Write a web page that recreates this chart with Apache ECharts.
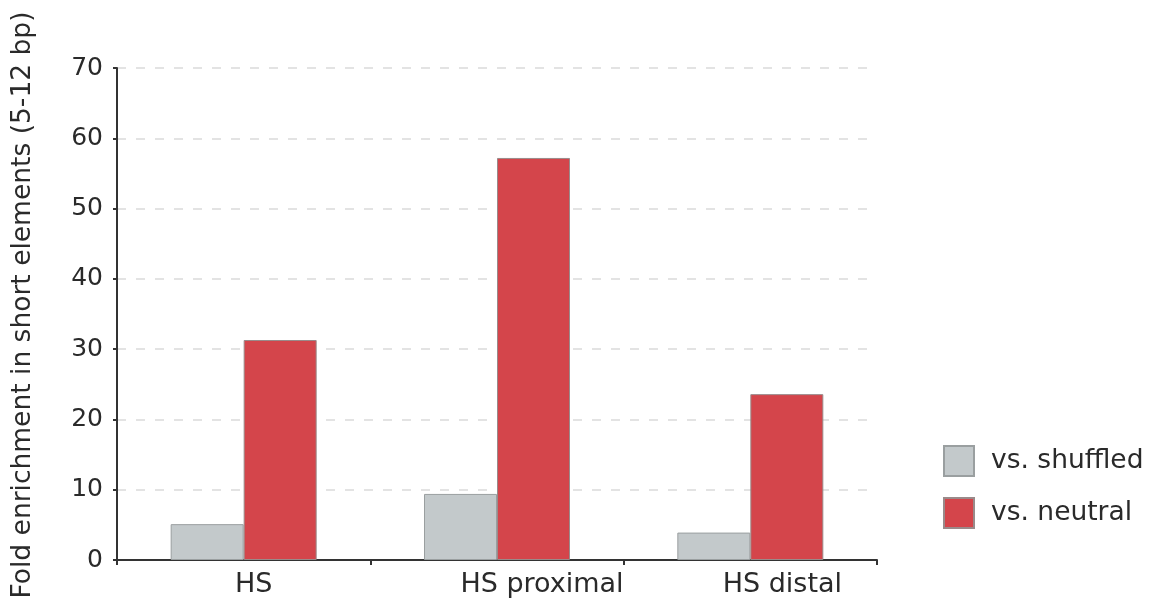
<!DOCTYPE html>
<html>
<head>
<meta charset="utf-8">
<script src="https://cdn.jsdelivr.net/npm/echarts@6/dist/echarts.min.js"></script>
<style>
  html, body { margin: 0; padding: 0; background: #fff; }
  #chart { width: 1152px; height: 612px; }
</style>
</head>
<body>
<div id="chart"></div>
<script>
// Fold enrichment of short elements per region set
const categories = ['HS', 'HS proximal', 'HS distal'];
const vsShuffled = [5.1, 9.4, 3.9];
const vsNeutral = [31.3, 57.2, 23.6];
const seriesNames = ['vs. shuffled', 'vs. neutral'];
const yAxisTitle = 'Fold enrichment in short elements (5-12 bp)';

// per-label nudges so the category names sit where the layout places them
const labelPad = [20, 90, 64];

const chart = echarts.init(document.getElementById('chart'), null, { renderer: 'canvas' });

const labelFont = 'DejaVu Sans, Verdana, sans-serif';

chart.setOption({
  animation: false,
  backgroundColor: '#ffffff',
  grid: { left: 117, right: 275, top: 68, bottom: 52, containLabel: false, outerBoundsMode: 'none' },
  legend: {
    orient: 'vertical',
    left: 938,
    top: 440,
    itemWidth: 30,
    itemHeight: 30,
    itemGap: 20,
    icon: 'rect',
    data: seriesNames,
    textStyle: { fontFamily: labelFont, fontSize: 26.5, color: '#2a2a2a', padding: [0, 0, 0, 12] }
  },
  xAxis: {
    type: 'category',
    data: categories.map((c, i) => ({ value: c, textStyle: { padding: [0, 0, 0, labelPad[i]] } })),
    axisLine: { show: true, lineStyle: { color: '#333', width: 2 } },
    axisTick: { show: true, alignWithLabel: false, length: 5, lineStyle: { color: '#333', width: 2 } },
    axisLabel: { fontFamily: labelFont, fontSize: 27, color: '#2a2a2a', margin: 11 },
    splitLine: { show: false }
  },
  yAxis: {
    type: 'value',
    min: 0,
    max: 70,
    interval: 10,
    name: yAxisTitle,
    nameLocation: 'middle',
    nameRotate: 90,
    nameGap: 80,
    nameTextStyle: { fontFamily: labelFont, fontSize: 26.5, color: '#2a2a2a', padding: [0, 0, 0, 18] },
    axisLine: { show: true, lineStyle: { color: '#333', width: 2 } },
    axisTick: { show: true, length: 4, lineStyle: { color: '#333', width: 2 } },
    axisLabel: { fontFamily: labelFont, fontSize: 25, color: '#2a2a2a', margin: 14 },
    splitLine: { show: true, lineStyle: { color: '#dadada', type: [9, 10], width: 1.5 } }
  },
  series: [
    {
      name: seriesNames[0],
      type: 'bar',
      data: vsShuffled,
      barWidth: 73,
      barGap: '0%',
      itemStyle: { color: '#c3c9cb', borderColor: '#9a9fa0', borderWidth: 1 }
    },
    {
      name: seriesNames[1],
      type: 'bar',
      data: vsNeutral,
      barWidth: 73,
      barGap: '0%',
      itemStyle: { color: '#d4454b', borderColor: '#9a8a8a', borderWidth: 1 }
    }
  ]
});
</script>
</body>
</html>
